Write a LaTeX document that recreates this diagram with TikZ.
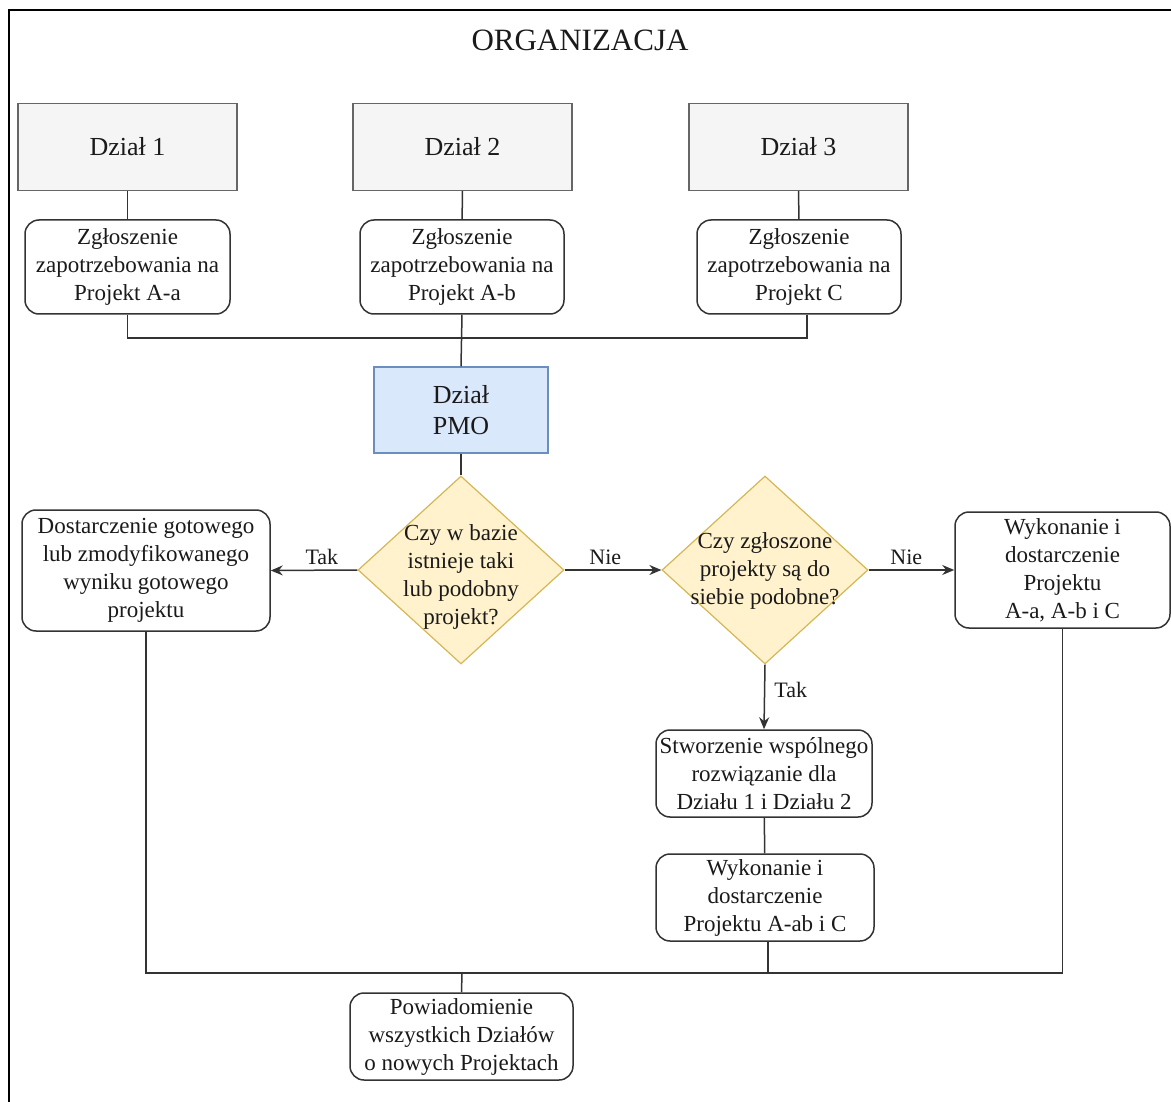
\documentclass[tikz,border=0pt]{standalone}
\usepackage{fontspec}
\setmainfont{Liberation Serif}
\newfontfamily\lserif{Liberation Serif}
\usetikzlibrary{shapes.geometric,arrows.meta,calc}
\definecolor{linec}{HTML}{333333}
\definecolor{txtc}{HTML}{1A1A1A}
\definecolor{grayfill}{HTML}{F5F5F5}
\definecolor{graydraw}{HTML}{666666}
\definecolor{bluefill}{HTML}{DAE8FC}
\definecolor{bluedraw}{HTML}{6C8EBF}
\definecolor{yelfill}{HTML}{FFF2CC}
\definecolor{yeldraw}{HTML}{D6B656}
\begin{document}
\begin{tikzpicture}[x=1pt,y=-1pt,
  every node/.style={text=txtc},
  body/.style={font=\lserif\fontsize{23}{28}\selectfont, align=center},
  dept/.style={draw=graydraw, fill=grayfill, line width=1.2pt, minimum width=219pt, minimum height=87pt, inner sep=0pt, font=\lserif\fontsize{26}{31}\selectfont},
  rbox/.style={draw=linec, fill=white, rounded corners=14pt, line width=1.5pt, inner sep=0pt, body, execute at begin node={\rule{0pt}{26.5pt}}},
  pmo/.style={draw=bluedraw, fill=bluefill, line width=1.2pt, minimum width=174pt, minimum height=86pt, inner sep=0pt, font=\lserif\fontsize{26}{31}\selectfont, align=center},
  dia/.style={diamond, draw=yeldraw, fill=yelfill, line width=1.2pt, minimum width=206pt, minimum height=188pt, inner sep=0pt},
  conn/.style={draw=linec, line width=1.5pt},
  arr/.style={conn, -{Stealth[length=12pt,width=10pt]}},
  lbl/.style={font=\lserif\fontsize{22}{26}\selectfont, inner sep=3pt}
]
\useasboundingbox (0,0) rectangle (1171,1102);
% frame
\coordinate (ftl) at (9,10);
\coordinate (ftr) at (1171,10);
\coordinate (fbl) at (9,1102);
\draw[line width=2.2pt, black] (fbl) -- (ftl) -- (ftr);
\node[font=\lserif\fontsize{31}{36}\selectfont] (title) at (580,40) {ORGANIZACJA};

% departments
\node[dept] (d1) at (127.5,147) {Dział 1};
\node[dept] (d2) at (462.5,147) {Dział 2};
\node[dept] (d3) at (798.5,147) {Dział 3};

% requests
\node[rbox, minimum width=205pt, minimum height=94pt] (z1) at (127.5,267) {Zgłoszenie\\zapotrzebowania na\\Projekt A-a};
\node[rbox, minimum width=204pt, minimum height=94pt] (z2) at (462,267) {Zgłoszenie\\zapotrzebowania na\\Projekt A-b};
\node[rbox, minimum width=204pt, minimum height=94pt] (z3) at (799,267) {Zgłoszenie\\zapotrzebowania na\\Projekt C};

\draw[conn] (d1) -- (z1);
\draw[conn] (d2) -- (z2);
\draw[conn] (d3) -- (z3);

% PMO
\node[pmo] (pmo) at (461,410) {Dział\\PMO};
\coordinate (busT) at (461,338);
\coordinate (z3b) at ($(z3.south)+(8,0)$);
\draw[conn] (z1.south) |- (busT);
\draw[conn] (z3b) |- (busT);
\draw[conn] (z2.south) -- (pmo.north);

% decisions
\node[dia] (q1) at (461,570) {};
\node[body] (q1t) at (461,577) {Czy w bazie\\istnieje taki\\lub podobny\\projekt?};
\node[dia] (q2) at (765,570) {};
\node[body] (q2t) at (765,571) {Czy zgłoszone\\projekty są do\\siebie podobne?};
\draw[conn] (pmo.south) -- (q1.north);

% outcomes
\node[rbox, minimum width=248pt, minimum height=121pt] (left) at (146,570.5) {Dostarczenie gotowego\\lub zmodyfikowanego\\wyniku gotowego\\projektu};
\node[rbox, minimum width=215pt, minimum height=116pt] (right) at (1062.5,570) {Wykonanie i\\dostarczenie\\Projektu\\A-a, A-b i C};
\node[rbox, minimum width=216pt, minimum height=87pt] (st) at (764,773.5) {Stworzenie wspólnego\\rozwiązanie dla\\Działu 1 i Działu 2};
\node[rbox, minimum width=218pt, minimum height=87pt] (wk) at (765,897.5) {Wykonanie i\\dostarczenie\\Projektu A-ab i C};
\node[rbox, minimum width=223pt, minimum height=87pt] (pw) at (461.5,1036.5) {Powiadomienie\\wszystkich Działów\\o nowych Projektach};

\draw[arr] (q1.west) -- node[lbl, above, pos=0.41, yshift=2pt] {Tak} (left.east);
\draw[arr] (q1.east) -- node[lbl, above, pos=0.42, yshift=2pt] {Nie} (q2.west);
\draw[arr] (q2.east) -- node[lbl, above, pos=0.44, yshift=2pt] {Nie} (right.west);
\draw[arr] (q2.south) -- node[lbl, right, pos=0.4, xshift=6pt] {Tak} (st.north);
\draw[conn] (st) -- (wk);

% bottom bus
\coordinate (busB) at (462,973);
\coordinate (wkb) at ($(wk.south)+(3,0)$);
\draw[conn] (left.south) |- (busB);
\draw[conn] (right.south) |- (busB);
\draw[conn] (wkb) -- (wkb |- busB);
\draw[conn] (busB) -- (pw.north);
\end{tikzpicture}
\end{document}
